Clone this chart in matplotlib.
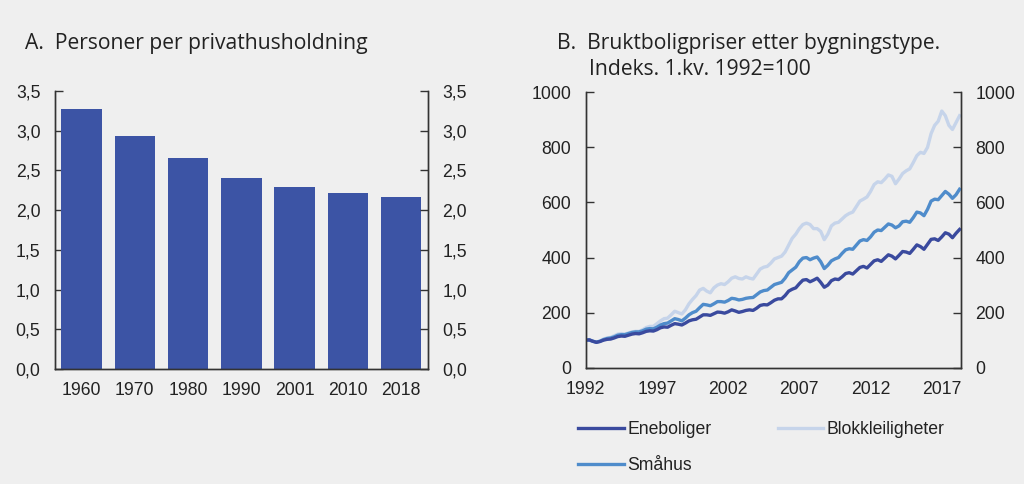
import matplotlib
matplotlib.use("Agg")
import matplotlib.pyplot as plt
import numpy as np

# ---------------- data ----------------
years_a = ["1960", "1970", "1980", "1990", "2001", "2010", "2018"]
persons = [3.27, 2.93, 2.66, 2.40, 2.29, 2.22, 2.17]
yticks_a = [0.0, 0.5, 1.0, 1.5, 2.0, 2.5, 3.0, 3.5]
yticklabels_a = ["0,0", "0,5", "1,0", "1,5", "2,0", "2,5", "3,0", "3,5"]

start_year = 1992  # quarterly series, 1992Q1 .. 2018Q2
eneboliger = [
    100, 101, 96, 92,
    95, 100, 103, 104,
    108, 113, 115, 114,
    118, 122, 124, 123,
    127, 132, 134, 133,
    138, 145, 148, 147,
    154, 160, 158, 155,
    162, 170, 174, 176,
    184, 192, 192, 190,
    196, 202, 201, 198,
    203, 210, 206, 201,
    204, 208, 210, 208,
    216, 226, 229, 228,
    236, 245, 250, 250,
    262, 278, 285, 290,
    305, 318, 320, 312,
    318, 325, 310, 292,
    300, 316, 322, 320,
    330, 342, 345, 340,
    352, 364, 368, 362,
    375, 388, 392, 386,
    398, 410, 405, 395,
    408, 422, 420, 415,
    430, 446, 440, 430,
    448, 466, 468, 462,
    475, 490, 485, 472,
    488, 502,
]
smaahus = [
    100, 101, 96, 93,
    96, 102, 106, 108,
    112, 118, 120, 120,
    124, 128, 130, 130,
    134, 140, 142, 141,
    147, 155, 160, 162,
    170, 178, 175, 170,
    180, 192, 200, 205,
    218, 230, 228, 225,
    232, 240, 240, 238,
    244, 252, 250, 246,
    248, 252, 254, 255,
    265, 275, 280, 282,
    292, 302, 306, 310,
    325, 345, 355, 365,
    385, 398, 400, 392,
    398, 402, 385, 360,
    372, 388, 395, 400,
    415, 428, 432, 430,
    445, 460, 465, 462,
    475, 492, 500, 498,
    510, 522, 518, 508,
    515, 530, 532, 528,
    545, 565, 562, 552,
    575, 605, 612, 610,
    625, 640, 630, 615,
    628, 648,
]
blokk = [
    100, 101, 96, 93,
    97, 104, 108, 110,
    116, 122, 124, 122,
    126, 130, 132, 132,
    138, 146, 150, 150,
    160, 170, 178, 180,
    192, 205, 200, 195,
    210, 232, 248, 262,
    282, 288, 278, 272,
    290, 300, 305, 302,
    312, 325, 330, 324,
    322, 330, 325, 322,
    340, 358, 365, 368,
    380, 395, 400, 405,
    420, 445, 470, 485,
    505, 520, 525, 520,
    505, 505, 495, 465,
    485, 515, 525, 528,
    540, 552, 560, 565,
    585, 605, 612, 620,
    640, 665, 675, 672,
    685, 700, 695, 668,
    685, 705, 715, 722,
    745, 770, 782, 778,
    800, 850, 880, 895,
    932, 915, 880, 865,
    890, 915,
]
xticks_b = [1992, 1997, 2002, 2007, 2012, 2017]
yticks_b = [0, 200, 400, 600, 800, 1000]

# ---------------- style ----------------
BG = "#efefef"
TXT = "#222222"
BAR = "#3c54a5"
C_ENE = "#3a4a9e"
C_SMA = "#4f8ccb"
C_BLO = "#c6d4ea"
tick_font = "Liberation Sans"
title_font = "Open Sans"
FS = 12.7

plt.rcParams["font.family"] = [tick_font, "DejaVu Sans"]

fig = plt.figure(figsize=(10.24, 4.84), dpi=100, facecolor=BG)


def style_axes(ax):
    ax.set_facecolor(BG)
    ax.spines["top"].set_visible(False)
    for s in ("left", "right", "bottom"):
        ax.spines[s].set_color("#333333")
        ax.spines[s].set_linewidth(1.0)
    ax.tick_params(axis="y", which="both", direction="in", length=6, width=1,
                   color="#333333", labelsize=FS, labelcolor=TXT, pad=10.5)
    ax.tick_params(axis="x", length=0, labelsize=FS, labelcolor=TXT, pad=9.5)


# ---------------- panel A ----------------
axA = fig.add_axes([55 / 1024, 1 - 369 / 484, 372.7 / 1024, 278 / 484])
x = np.arange(len(years_a))
axA.bar(x, persons, width=0.76, color=BAR, zorder=2)
axA.set_xlim(-0.5, len(years_a) - 0.5)
axA.set_ylim(0, 3.5)
axA.set_xticks(x)
axA.set_xticklabels(years_a)
axA.set_yticks(yticks_a)
axA.set_yticklabels(yticklabels_a)
style_axes(axA)
axA2 = axA.twinx()
axA2.set_ylim(0, 3.5)
axA2.set_yticks(yticks_a)
axA2.set_yticklabels(yticklabels_a)
style_axes(axA2)

# ---------------- panel B ----------------
axB = fig.add_axes([585.7 / 1024, 1 - 367.7 / 484, 375.3 / 1024, 275.4 / 484])
n = len(eneboliger)
t = start_year + np.arange(n) / 4.0
lw = 2.4
axB.plot(t, blokk, color=C_BLO, lw=lw, label="Blokkleiligheter", zorder=2)
axB.plot(t, smaahus, color=C_SMA, lw=lw, label="Småhus", zorder=3)
axB.plot(t, eneboliger, color=C_ENE, lw=lw, label="Eneboliger", zorder=4)
axB.set_xlim(1992, 2018.35)
axB.set_ylim(0, 1000)
axB.set_xticks(xticks_b)
axB.set_xticklabels([str(v) for v in xticks_b])
axB.set_yticks(yticks_b)
style_axes(axB)
axB2 = axB.twinx()
axB2.set_ylim(0, 1000)
axB2.set_yticks(yticks_b)
style_axes(axB2)

h, l = axB.get_legend_handles_labels()
order = [l.index("Eneboliger"), l.index("Småhus"), l.index("Blokkleiligheter")]
leg = fig.legend([h[i] for i in order], [l[i] for i in order], ncol=2,
                 loc="upper left", bbox_to_anchor=(562 / 1024, 1 - 405 / 484),
                 frameon=False, fontsize=FS, handlelength=2.6, handletextpad=0.2,
                 columnspacing=3.75, labelspacing=1.1, labelcolor=TXT)

# ---------------- titles ----------------
tfs = 15.2
fig.text(25 / 1024, 1 - 49 / 484, "A.  Personer per privathusholdning",
         fontsize=tfs, family=[title_font, "DejaVu Sans"], color=TXT,
         ha="left", va="baseline")
fig.text(557 / 1024, 1 - 49 / 484, "B.  Bruktboligpriser etter bygningstype.",
         fontsize=tfs, family=[title_font, "DejaVu Sans"], color=TXT,
         ha="left", va="baseline")
fig.text(589 / 1024, 1 - 75 / 484, "Indeks. 1.kv. 1992=100",
         fontsize=tfs, family=[title_font, "DejaVu Sans"], color=TXT,
         ha="left", va="baseline")

fig.savefig("out.png", dpi=100, facecolor=BG)
